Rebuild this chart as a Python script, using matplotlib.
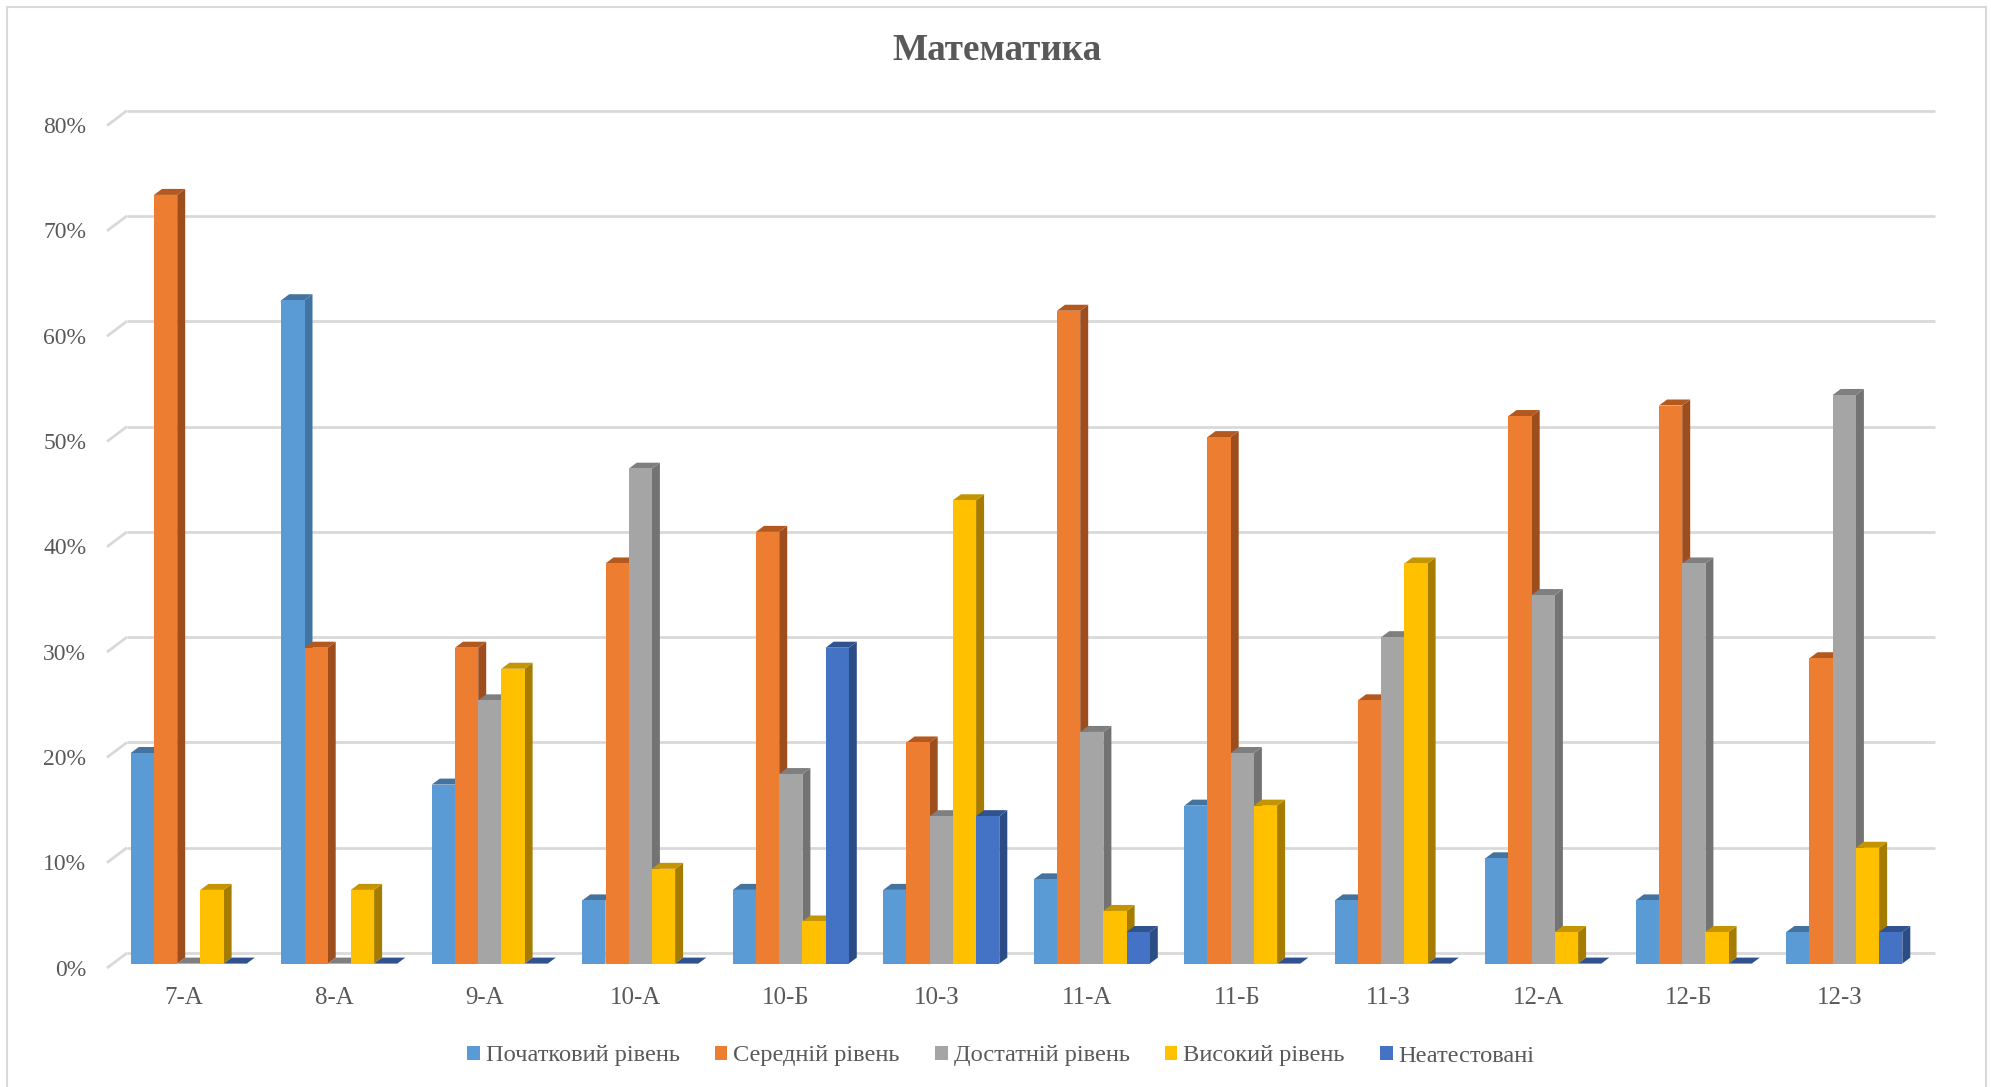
import numpy as np
import matplotlib
matplotlib.use("Agg")
import matplotlib.pyplot as plt
from matplotlib.patches import Polygon, Patch, Rectangle

plt.rcParams['font.family'] = ['Liberation Serif', 'DejaVu Serif']

classes = ["7-А", "8-А", "9-А", "10-А", "10-Б", "10-З", "11-А", "11-Б", "11-З", "12-А", "12-Б", "12-З"]
series_names = ["Початковий рівень", "Середній рівень", "Достатній рівень", "Високий рівень", "Неатестовані"]
initial = [20, 63, 17, 6, 7, 7, 8, 15, 6, 10, 6, 3]
middle = [73, 30, 30, 38, 41, 21, 62, 50, 25, 52, 53, 29]
sufficient = [0, 0, 25, 47, 18, 14, 22, 20, 31, 35, 38, 54]
high = [7, 7, 28, 9, 4, 44, 5, 15, 38, 3, 3, 11]
not_attested = [0, 0, 0, 0, 30, 14, 3, 0, 0, 0, 0, 3]
series = [initial, middle, sufficient, high, not_attested]
colors = ["#5B9BD5", "#ED7D31", "#A5A5A5", "#FFC000", "#4472C4"]
sides = ["#3F74A3", "#9E4E1C", "#737373", "#A67C00", "#2C4C86"]
tops = ["#44739F", "#B3591F", "#7F7F7F", "#C49500", "#30528F"]
ytick_values = [0, 10, 20, 30, 40, 50, 60, 70, 80]
title = "Математика"

W, H = 1991, 1087
fig = plt.figure(figsize=(W / 100, H / 100), dpi=100, facecolor="white")

# pixel geometry of the plot
PX_L, PX_R, PX_B, PX_T = 107.0, 1935.0, 968.0, 110.0
UX, X0 = 150.5, 188.8      # px per category, px of category 0 centre
UY, Y0 = 10.53, 963.6      # px per percent, px of 0 %
ax = fig.add_axes([PX_L / W, 1 - PX_B / H, (PX_R - PX_L) / W, (PX_B - PX_T) / H])
ax.set_xlim((PX_L - X0) / UX, (PX_R - X0) / UX)
ax.set_ylim((Y0 - PX_B) / UY, (Y0 - PX_T) / UY)
ax.patch.set_alpha(0)
for s in ax.spines.values():
    s.set_visible(False)

# depth offsets in data units
bar_w = 23.2 / UX
bar_dx, bar_dy = 8.0 / UX, 6.0 / UY
tick_dy = -4.4 / UY          # front of the floor, below bar fronts
wall_dx, wall_dy = 20.0 / UX, 10.6 / UY

GRID = "#D9D9D9"
x_left = ax.get_xlim()[0]
x_right = ax.get_xlim()[1]
for v in ytick_values:
    ax.plot([x_left + wall_dx, x_right], [v + wall_dy] * 2, color=GRID, lw=2.0, zorder=1,
            solid_capstyle="butt", clip_on=False)
    ax.plot([x_left, x_left + wall_dx], [v + tick_dy, v + wall_dy], color=GRID, lw=2.0, zorder=1,
            solid_capstyle="butt", clip_on=False)

n = len(series)
z = 2
for i in range(len(classes)):
    for j in range(n):
        v = series[j][i]
        left = i + (j - n / 2) * bar_w
        right = left + bar_w
        ax.bar(left, v, width=bar_w, align="edge", color=colors[j], linewidth=0, zorder=z + 2)
        ax.add_patch(Polygon([(right, 0), (right + bar_dx, bar_dy), (right + bar_dx, v + bar_dy), (right, v)],
                             closed=True, facecolor=sides[j], edgecolor="none", zorder=z + 1))
        ax.add_patch(Polygon([(left, v), (left + bar_dx, v + bar_dy), (right + bar_dx, v + bar_dy), (right, v)],
                             closed=True, facecolor=tops[j], edgecolor="none", zorder=z + 1))
        z += 3

TEXT = "#595959"
ax.set_xticks(np.arange(len(classes)) - 5.0 / UX, classes)
ax.set_yticks(np.array(ytick_values) + tick_dy * 0.9, [f"{v}%" for v in ytick_values])
ax.tick_params(axis="x", length=0, labelsize=18, labelcolor=TEXT, pad=14)
ax.tick_params(axis="y", length=0, labelsize=17, labelcolor=TEXT, pad=15)

fig.text(997 / W, 1 - 51 / H, title, ha="center", va="center", fontsize=26.7, fontweight="bold", color=TEXT)

handles = [Patch(facecolor=c, edgecolor="none", label=nm) for c, nm in zip(colors, series_names)]
fig.legend(handles=handles, loc="center", bbox_to_anchor=(1001 / W, 1 - 1056 / H), ncol=5, frameon=False,
           fontsize=17.6, labelcolor=TEXT, handlelength=0.5, handleheight=0.5, handletextpad=0.25,
           columnspacing=1.45, borderpad=0, borderaxespad=0)

fig.add_artist(Rectangle((7 / W, 1 - 1100 / H), (1986 - 7) / W, (1100 - 7) / H, transform=fig.transFigure,
                         facecolor="none", edgecolor=GRID, lw=1.5, zorder=0))

fig.savefig("out.png", dpi=100, facecolor="white")
